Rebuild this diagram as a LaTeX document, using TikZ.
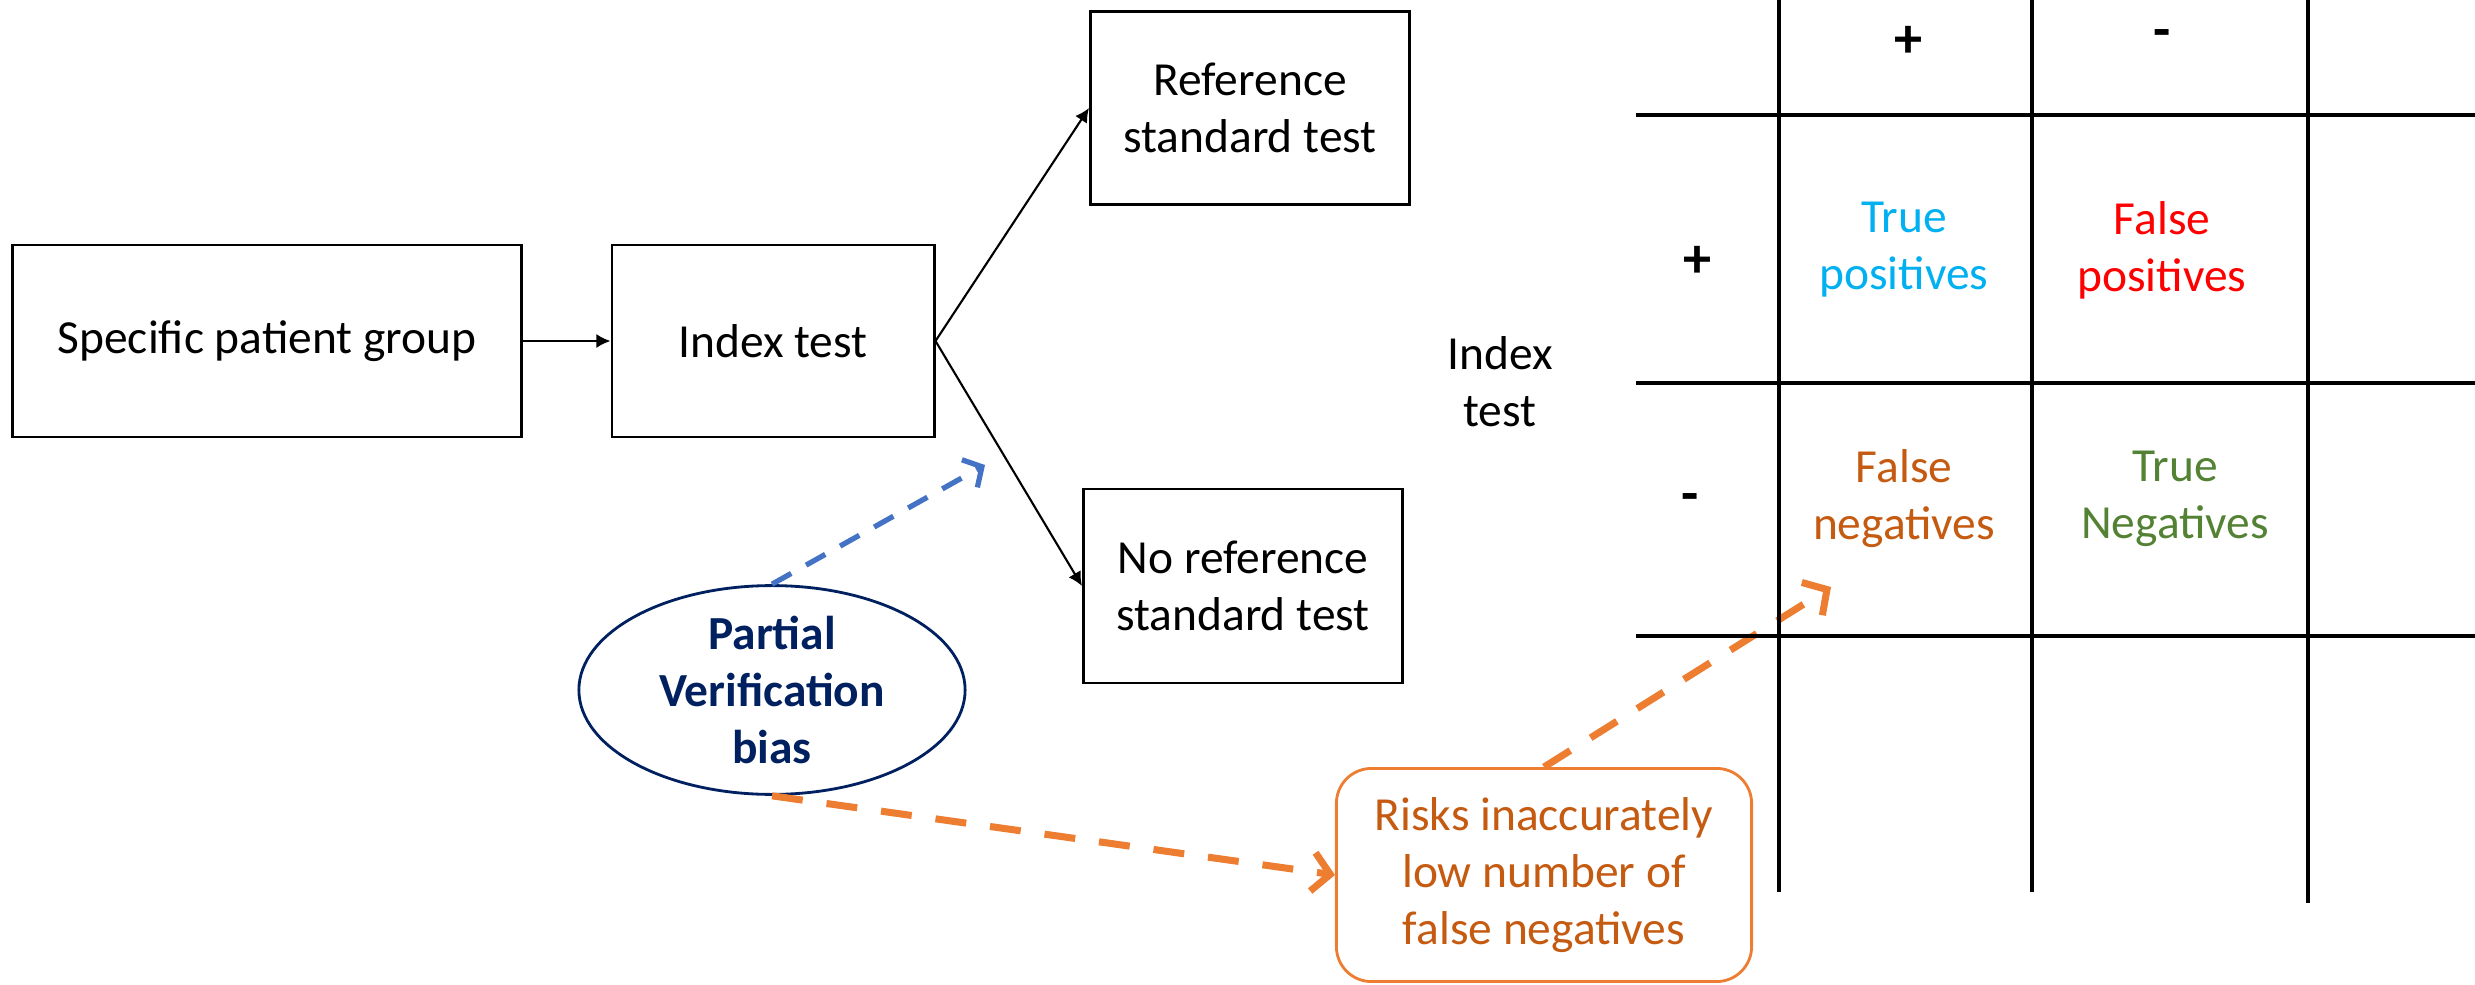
\documentclass[tikz,border=0pt]{standalone}
\usepackage{fontspec}
\setmainfont{Carlito}
\usetikzlibrary{arrows.meta,shapes.geometric}
\definecolor{tpblue}{HTML}{00B0F0}
\definecolor{fpred}{HTML}{FF0000}
\definecolor{fnorange}{HTML}{C55A11}
\definecolor{tngreen}{HTML}{548235}
\definecolor{biasnavy}{HTML}{002060}
\definecolor{linkblue}{HTML}{4472C4}
\definecolor{linkorange}{HTML}{ED7D31}
\begin{document}
\begin{tikzpicture}[x=0.01cm,y=-0.01cm,
    font=\fontsize{13.5}{16.2}\selectfont,
    box/.style={draw,line width=0.8pt,align=center,inner sep=0pt,minimum height=1.92cm},
    flow/.style={-{Latex[length=4pt,width=4pt]},line width=0.6pt},
    bluelink/.style={draw=linkblue,line width=1.5pt,dash pattern=on 0.22cm off 0.17cm,
      -{Straight Barb[length=4pt,width=9pt]}},
    orangelink/.style={draw=linkorange,line width=2pt,dash pattern=on 0.31cm off 0.24cm,
      -{Straight Barb[length=5pt,width=11pt]}},
    gridline/.style={line width=1.1pt},
    sign/.style={font=\fontsize{16}{19}\selectfont\bfseries}]
  \useasboundingbox (0,0) rectangle (2475,985);

  \node[box,minimum width=5.08cm] (group) at (267,341) {Specific patient group};
  \node[box,minimum width=3.22cm] (index) at (773,341) {Index test};
  \node[box,minimum width=3.19cm,minimum height=1.93cm] (refstd) at (1250,108) {Reference\\standard test};
  \node[box,minimum width=3.19cm,minimum height=1.94cm] (noref) at (1243,586) {No reference\\standard test};
  \node[ellipse,draw=biasnavy,line width=0.8pt,minimum width=3.86cm,minimum height=1.90cm,
    inner sep=0pt,align=center,text=biasnavy,font=\fontsize{13.5}{16.2}\selectfont\bfseries] (bias) at (772,690)
    {Partial\\Verification\\bias};
  \node[draw=linkorange,line width=0.8pt,rounded corners=0.35cm,minimum width=4.15cm,minimum height=2.13cm,
    inner sep=0pt,align=center,text=fnorange] (risks) at (1544,875)
    {Risks inaccurately\\low number of\\false negatives};

  \draw[flow] (group) to (index);
  \draw[flow] (index.east) to (refstd.west);
  \draw[flow] (index.east) to (noref.west);

  \coordinate (bluetip) at (985,465);
  \coordinate (fntip) at (1831,587);
  \draw[bluelink] (bias.north) to (bluetip);
  \draw[orangelink] (bias.south) to (risks.west);
  \draw[orangelink] (risks.north) to (fntip);

  \draw[gridline] (1636,115) -- (2475,115);
  \draw[gridline] (1636,383) -- (2475,383);
  \draw[gridline] (1636,636) -- (2475,636);
  \draw[gridline] (1779,0) -- (1779,892);
  \draw[gridline] (2032,0) -- (2032,892);
  \draw[gridline] (2308,0) -- (2308,903);

  \node[sign] (refpos) at (1908,42) {+};
  \node[sign] (refneg) at (2162,39) {-};
  \node[sign] (idxpos) at (1697,262) {+};
  \node[sign] (idxneg) at (1690,503) {-};
  \node[align=center] (idxlabel) at (1500,382) {Index\\test};

  \node[align=center,text=tpblue] (tp) at (1904,250) {True\\positives};
  \node[align=center,text=fpred] (fp) at (2162,250) {False\\positives};
  \node[align=center,text=fnorange] (fn) at (1904,499) {False\\negatives};
  \node[align=center,text=tngreen] (tn) at (2175,499) {True\\Negatives};
\end{tikzpicture}
\end{document}
